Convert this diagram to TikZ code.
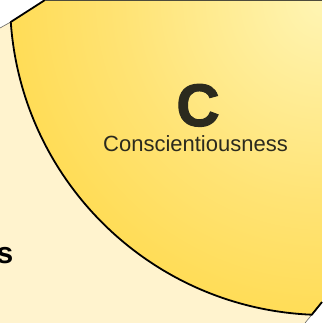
\documentclass[tikz,border=0pt]{standalone}
\usepackage{fontspec}
\setmainfont{Liberation Sans}
\definecolor{petalLight}{HTML}{FFF5B4}
\definecolor{petalMid}{HTML}{FFE374}
\definecolor{petalDark}{HTML}{FFD22A}
\definecolor{cream}{HTML}{FFF3CE}
\definecolor{ink}{HTML}{2B2A1E}
\definecolor{rim}{HTML}{4E4C3C}
\pgfdeclareradialshading{petal}{\pgfpointorigin}{color(0bp)=(petalLight);
  color(8bp)=(petalMid); color(19bp)=(petalDark); color(50bp)=(petalDark)}
\begin{document}
\begin{tikzpicture}[
x=1pt, y=-1pt,
letter/.style={font=\bfseries\addfontfeature{FakeBold=1.8}\fontsize{60}{60}\selectfont,
  text=ink, inner sep=0pt, anchor=base},
trait/.style={font=\fontsize{22}{22}\selectfont, text=ink, inner sep=0pt, anchor=base},
side/.style={font=\bfseries\fontsize{30}{30}\selectfont, text=black, inner sep=0pt, anchor=base east},
edge/.style={black, line width=1.8pt, line join=round},
seam/.style={black!60, line width=0.6pt}
]
\useasboundingbox (0,0) rectangle (322,323);
\fill[white] (0,0) rectangle (322,323);
\coordinate (hub) at (325,0);
\coordinate (arcTop) at ([shift={(184:315pt)}]hub);
\coordinate (arcEnd) at ([shift={(267.6:315pt)}]hub);
\coordinate (rimLeft) at (45,0);
\coordinate (rimRight) at (322,0);
\coordinate (cutLeft) at (0,28);
\coordinate (cutRight) at (322,302);
\coordinate (cutLow) at (305,323);
\fill[cream] (cutLeft) -- (arcTop) arc[start angle=184, end angle=267.6, radius=315pt]
  -- (cutLow) -- (0,323) -- cycle;
\begin{scope}
\clip (rimLeft) -- (arcTop) arc[start angle=184, end angle=267.6, radius=315pt]
  -- (cutRight) -- (rimRight) -- cycle;
\shade[shading=petal] (hub) circle (640pt);
\end{scope}
\draw[seam] (cutLeft) -- (arcTop);
\draw[seam] (arcEnd) -- (cutLow);
\draw[edge] (rimLeft) -- (arcTop) arc[start angle=184, end angle=267.6, radius=315pt]
  -- (cutRight);
\draw[rim, line width=1.5pt] (rimLeft) -- (rimRight);
\node[letter] (bigC) at (198,126) {C};
\node[trait] (conscientious) at (195.5,151) {Conscientiousness};
\node[side] (leftWord) at (13.5,263) {s};
\end{tikzpicture}
\end{document}
